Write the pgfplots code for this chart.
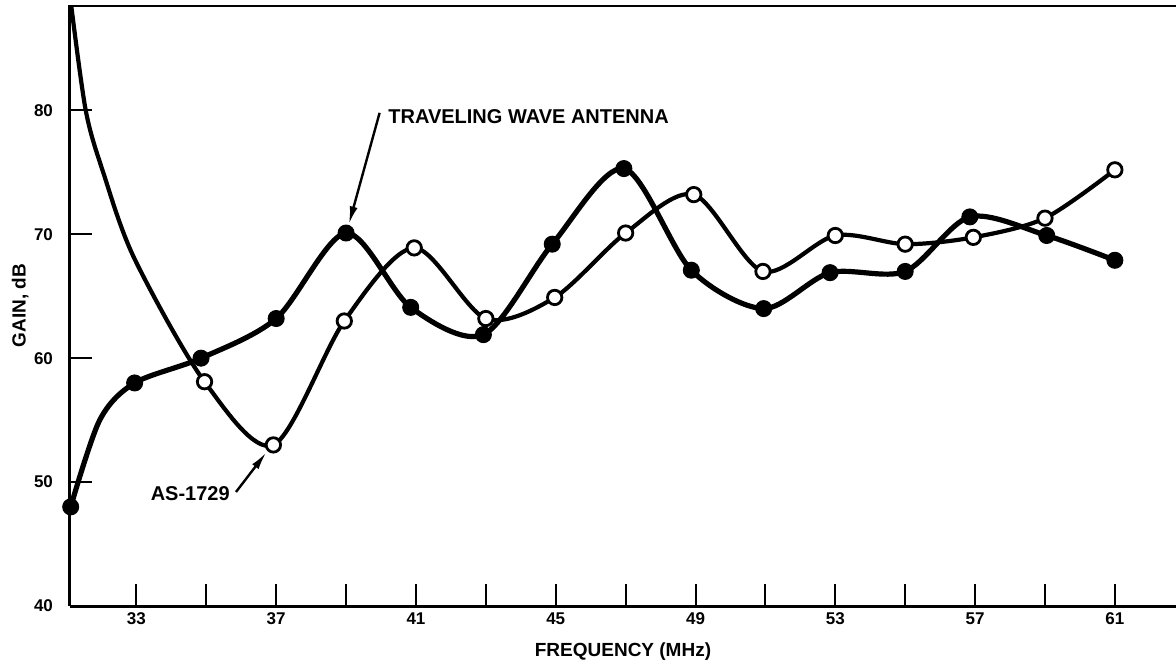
\documentclass[border=0pt]{standalone}
\usepackage{fontspec}
\setmainfont{Liberation Sans}
\usepackage{pgfplots}
\pgfplotsset{compat=1.18}
\usetikzlibrary{arrows.meta}

\begin{document}
\begin{tikzpicture}
\begin{axis}[
  scale only axis,
  width=553pt, height=300.5pt,
  xmin=31.1, xmax=62.75,
  ymin=40, ymax=88.5,
  axis x line*=bottom, axis y line*=left,
  axis line style={line width=1.5pt},
  xtick={33,37,...,61},
  minor xtick={35,39,...,59},
  ytick={40,50,60,70,80},
  tick align=inside,
  major tick length=11pt, minor tick length=11pt,
  tick style={line width=1pt, black},
  /pgf/number format/assume math mode=true,
  ticklabel style={font=\bfseries\fontsize{8.5}{9}\selectfont},
  yticklabel style={xshift=-5pt},
  xlabel={FREQUENCY (MHz)},
  ylabel={GAIN, dB},
  label style={font=\bfseries\fontsize{9.5}{11}\selectfont},
  xlabel style={at={(axis description cs:0.5,-0.076)}, anchor=center},
  ylabel style={at={(axis description cs:-0.045,0.5)}, anchor=center},
]
\coordinate (ll) at (rel axis cs:0,0);
\coordinate (ur) at (rel axis cs:1,1);
\draw[line width=1.5pt] (rel axis cs:0,1) -- (rel axis cs:1,1);

% traveling wave antenna (filled dots); second point traced on the curve
\addplot[black, line width=2.6pt, smooth, mark=*, mark size=4pt,
  mark indices={1,3,4,5,6,7,8,9,10,11,12,13,14,15,16,17},
  mark options={solid, fill=black, line width=0.5pt}] coordinates {
  (31.12,48.0) (31.95,55.0) (32.95,58.0) (34.85,60.0) (37,63.2) (39,70.1) (40.85,64.1)
  (42.93,61.9) (44.9,69.2) (46.95,75.3) (48.88,67.1) (50.95,64.0)
  (52.85,66.9) (55,67.0) (56.85,71.4) (59.05,69.9) (61,67.9)
};

% AS-1729 (open dots); first three points traced on the curve
\addplot[black, line width=2.1pt, smooth, mark=*, mark size=3.6pt,
  mark indices={4,5,6,7,8,9,10,11,12,13,14,15,16,17,18},
  mark options={solid, fill=white, draw=black, line width=1.4pt}] coordinates {
  (31.12,88.8) (31.55,80.0) (32.05,75.0) (32.95,68.0) (34.95,58.1) (36.92,53.0) (38.95,63.0)
  (40.95,68.9) (43,63.2) (44.97,64.9) (47,70.1) (48.95,73.2) (50.93,67.0)
  (53,69.9) (55,69.2) (56.95,69.75) (59,71.3) (61,75.2)
};

\node[anchor=west, font=\bfseries\fontsize{10}{12}\selectfont, inner sep=0pt]
  at (axis cs:40.2,79.5) {TRAVELING WAVE ANTENNA};
\draw[line width=1.2pt, -{Latex[length=9pt,width=4pt]}]
  (axis cs:39.96,79.8) -- (axis cs:39.08,70.8);

\node[anchor=west, font=\bfseries\fontsize{10}{12}\selectfont, inner sep=0pt]
  at (axis cs:33.4,49.1) {AS-1729};
\draw[line width=1.2pt, -{Latex[length=9pt,width=4pt]}]
  (axis cs:35.85,49.2) -- (axis cs:36.72,52.4);
\end{axis}
\pgfresetboundingbox
\path[use as bounding box] ([xshift=-35pt,yshift=-29pt]ll) rectangle ([yshift=2.5pt]ur);
\end{tikzpicture}
\end{document}
